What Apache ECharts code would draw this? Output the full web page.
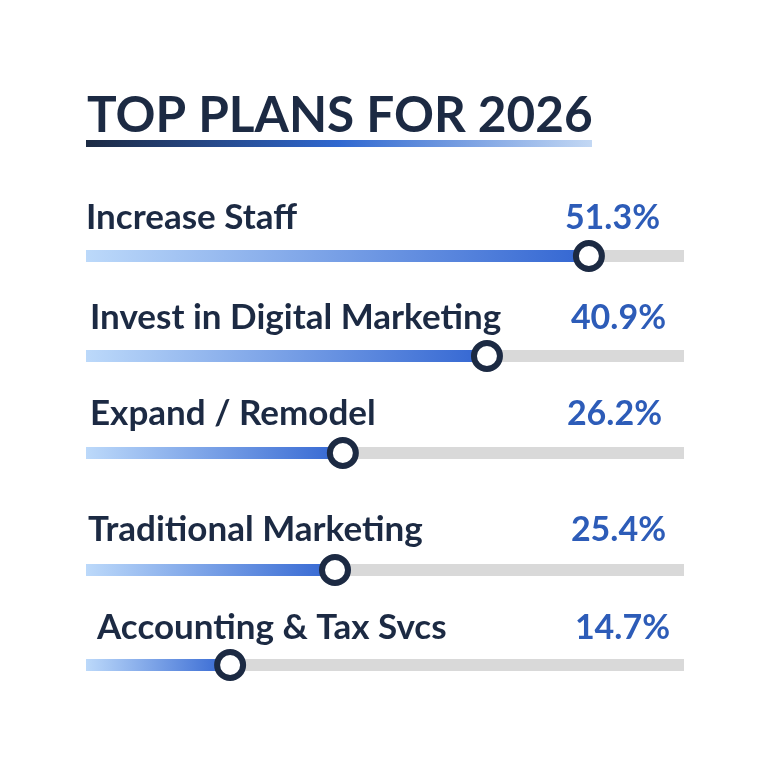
<!DOCTYPE html>
<html>
<head>
<meta charset="utf-8">
<script src="https://cdn.jsdelivr.net/npm/echarts@6/dist/echarts.min.js"></script>
<style>
html,body{margin:0;padding:0;background:#fff;}
#chart{width:768px;height:762px;}
</style>
</head>
<body>
<div id="chart"></div>
<script>
// ---- data ----
const titleText = 'TOP PLANS FOR 2026';
const categories = ['Increase Staff', 'Invest in Digital Marketing', 'Expand / Remodel', 'Traditional Marketing', 'Accounting & Tax Svcs'];
const values = [51.3, 40.9, 26.2, 25.4, 14.7];
const axisMax = 61;

// ---- layout (not data) ----
const trackCenters = [256, 356, 453, 570, 665];
const nameDx = [0, 4, 4, 2, 11];
const pctDx = [-24, -18, -22, -18, -14];
const labelDy = [-38, -38, -39, -40, -37];

const NAVY = '#1c2a43';
const BLUE_TXT = '#2d5cb8';
const FONT = 'Lato';

const chart = echarts.init(document.getElementById('chart'));

const grids = [], xAxes = [], yAxes = [], series = [];
categories.forEach((cat, i) => {
  grids.push({left: 86, width: 598, top: trackCenters[i] - 6, height: 12});
  xAxes.push({type: 'value', gridIndex: i, min: 0, max: axisMax, show: false});
  yAxes.push({type: 'category', gridIndex: i, data: [cat], show: false});
  // gray track with category name label
  series.push({
    type: 'bar', xAxisIndex: i, yAxisIndex: i, barWidth: 12, barGap: '-100%',
    silent: true, z: 1,
    itemStyle: {color: '#d9d9d9'},
    data: [axisMax],
    label: {
      show: true, position: 'insideLeft', distance: 0,
      offset: [nameDx[i], labelDy[i]],
      formatter: () => cat,
      fontFamily: FONT, fontWeight: 'bold', fontSize: 35, color: NAVY
    }
  });
  // gradient value bar
  series.push({
    type: 'bar', xAxisIndex: i, yAxisIndex: i, barWidth: 12, barGap: '-100%',
    silent: true, z: 2,
    itemStyle: {color: new echarts.graphic.LinearGradient(0, 0, 1, 0, [
      {offset: 0, color: '#bcd9fa'},
      {offset: 1, color: '#3366d2'}
    ])},
    data: [values[i]]
  });
  // invisible full-length helper carrying the percentage text
  series.push({
    type: 'bar', xAxisIndex: i, yAxisIndex: i, barWidth: 12, barGap: '-100%',
    silent: true, z: 0,
    itemStyle: {color: 'rgba(0,0,0,0)'},
    data: [axisMax],
    label: {
      show: true, position: 'insideRight', distance: 0,
      offset: [pctDx[i], labelDy[i]],
      formatter: () => values[i].toFixed(1) + '%',
      fontFamily: FONT, fontWeight: 'bold', fontSize: 34, color: BLUE_TXT
    }
  });
  // circle handle at value
  series.push({
    type: 'scatter', xAxisIndex: i, yAxisIndex: i, silent: true, z: 5,
    symbol: 'circle', symbolSize: 26,
    itemStyle: {color: '#ffffff', borderColor: NAVY, borderWidth: 6, opacity: 1},
    data: [[values[i], cat]]
  });
});

chart.setOption({
  backgroundColor: '#ffffff',
  animation: false,
  title: {
    text: titleText, left: 82, top: 86,
    textStyle: {fontFamily: FONT, fontWeight: 'bold', fontSize: 49.5, color: NAVY}
  },
  graphic: [{
    type: 'rect', shape: {x: 86, y: 140, width: 506, height: 7},
    style: {fill: new echarts.graphic.LinearGradient(0, 0, 1, 0, [
      {offset: 0, color: '#1c2a43'},
      {offset: 0.5, color: '#3068d0'},
      {offset: 1, color: '#c3d8f4'}
    ])}
  }],
  grid: grids, xAxis: xAxes, yAxis: yAxes, series: series
});
</script>
</body>
</html>
